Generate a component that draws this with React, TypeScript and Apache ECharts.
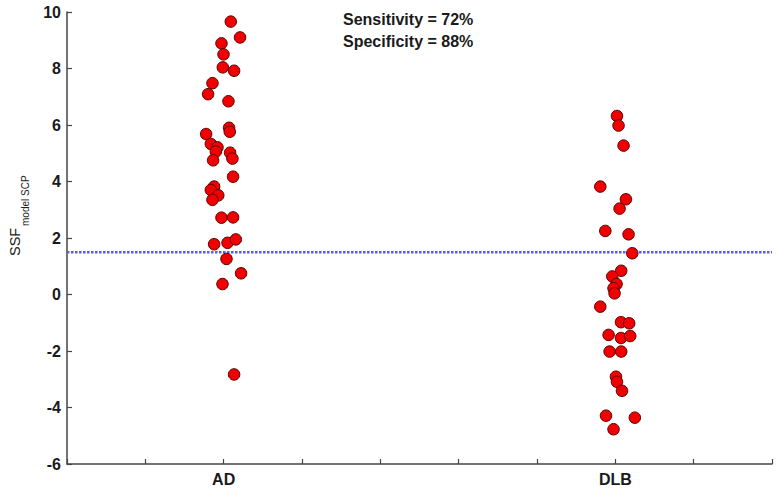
import React, { useEffect, useRef } from "react";
import * as echarts from "echarts";

// x positions are in axis units (AD centred at 2, DLB at 7)
const categories = ["AD", "DLB"];
const categoryPositions = [2, 7];
const yTicks = [-6, -4, -2, 0, 2, 4, 6, 8, 10];
const threshold = 1.5;

const adX = [2.091, 2.209, 1.972, 1.998, 1.989, 2.133, 1.857, 1.801, 2.061, 2.069, 2.078, 1.776, 1.836, 1.921, 1.9, 2.082, 2.112, 1.865, 2.12, 1.878, 1.836, 1.931, 1.857, 1.972, 2.12, 1.878, 2.049, 2.155, 2.036, 2.222, 1.985, 2.133];
const adY = [9.66, 9.1, 8.89, 8.5, 8.04, 7.92, 7.48, 7.09, 6.84, 5.9, 5.76, 5.68, 5.33, 5.21, 5.06, 5.02, 4.81, 4.75, 4.17, 3.82, 3.7, 3.51, 3.35, 2.72, 2.73, 1.78, 1.83, 1.95, 1.26, 0.75, 0.37, -2.83];

const dlbX = [7.021, 7.041, 7.105, 6.808, 7.135, 7.054, 6.872, 7.169, 7.216, 7.075, 6.961, 7.016, 6.977, 6.99, 6.808, 7.072, 7.177, 6.914, 7.072, 7.19, 6.927, 7.075, 7.008, 7.021, 7.085, 6.881, 7.249, 6.977];
const dlbY = [6.32, 5.98, 5.27, 3.82, 3.37, 3.04, 2.25, 2.13, 1.46, 0.84, 0.64, 0.37, 0.22, 0.04, -0.43, -0.98, -1.02, -1.43, -1.54, -1.47, -2.02, -2.02, -2.91, -3.09, -3.41, -4.29, -4.36, -4.77];

const annotations = ["Sensitivity = 72%", "Specificity = 88%"];
const yTitle = "SSF";
const yTitleSub = "model SCP";

const FONT = "'Liberation Sans', Arial, sans-serif";

export default function App() {
  const ref = useRef<HTMLDivElement>(null);
  useEffect(() => {
    if (!ref.current) return;
    const chart = echarts.init(ref.current, undefined, { renderer: "svg" });
    const axisColor = "#454545";
    const pts = (xs: number[], ys: number[]) => xs.map((x, i) => [x, ys[i]]);
    const markerStyle = { color: "#f00000", borderColor: "#5a0000", borderWidth: 1, opacity: 1 };
    chart.setOption({
      animation: false,
      backgroundColor: "#ffffff",
      grid: { left: 67, right: 5, top: 12, bottom: 29 },
      xAxis: {
        type: "value",
        min: 0,
        max: 9,
        interval: 1,
        axisLine: { show: true, onZero: false, lineStyle: { color: axisColor, width: 1.5 } },
        axisTick: { show: true, inside: true, length: 5, lineStyle: { color: axisColor, width: 1.2 } },
        splitLine: { show: false },
        axisLabel: {
          margin: 7,
          fontFamily: FONT,
          fontWeight: "bold",
          fontSize: 16,
          color: "#1a1a1a",
          formatter: (v: number) => {
            const idx = categoryPositions.indexOf(v);
            return idx >= 0 ? categories[idx] : "";
          },
        },
      },
      yAxis: {
        type: "value",
        min: yTicks[0],
        max: yTicks[yTicks.length - 1],
        interval: 2,
        axisLine: { show: true, onZero: false, lineStyle: { color: axisColor, width: 1.5 } },
        axisTick: { show: true, inside: true, length: 5, lineStyle: { color: axisColor, width: 1.2 } },
        splitLine: { show: false },
        axisLabel: {
          margin: 6,
          fontFamily: FONT,
          fontWeight: "bold",
          fontSize: 16,
          color: "#1a1a1a",
        },
      },
      graphic: [
        {
          type: "text",
          x: 15,
          y: 256,
          rotation: Math.PI / 2,
          style: { text: yTitle, fontFamily: FONT, fontSize: 14.5, fill: "#1a1a1a", align: "left", verticalAlign: "middle" },
        },
        {
          type: "text",
          x: 25,
          y: 226,
          rotation: Math.PI / 2,
          style: { text: yTitleSub, fontFamily: FONT, fontSize: 10, fill: "#222", align: "left", verticalAlign: "middle" },
        },
        {
          type: "text",
          left: 343,
          top: 11,
          style: { text: annotations[0], fontFamily: FONT, fontSize: 16, fontWeight: "bold", fill: "#1a1a1a" },
        },
        {
          type: "text",
          left: 343,
          top: 33,
          style: { text: annotations[1], fontFamily: FONT, fontSize: 16, fontWeight: "bold", fill: "#1a1a1a" },
        },
      ],
      series: [
        {
          type: "line",
          data: [[0, threshold], [9, threshold]],
          symbol: "none",
          z: 1,
          lineStyle: { color: "#5a5aff", width: 2.5, type: [2.5, 1.5] },
        },
        {
          type: "scatter",
          data: pts(adX, adY),
          symbol: "circle",
          symbolSize: 11.5,
          z: 3,
          itemStyle: markerStyle,
        },
        {
          type: "scatter",
          data: pts(dlbX, dlbY),
          symbol: "circle",
          symbolSize: 11.5,
          z: 3,
          itemStyle: markerStyle,
        },
      ],
    });
    return () => chart.dispose();
  }, []);
  return <div ref={ref} style={{ position: "fixed", left: 0, top: 0, width: 777, height: 493 }} />;
}
